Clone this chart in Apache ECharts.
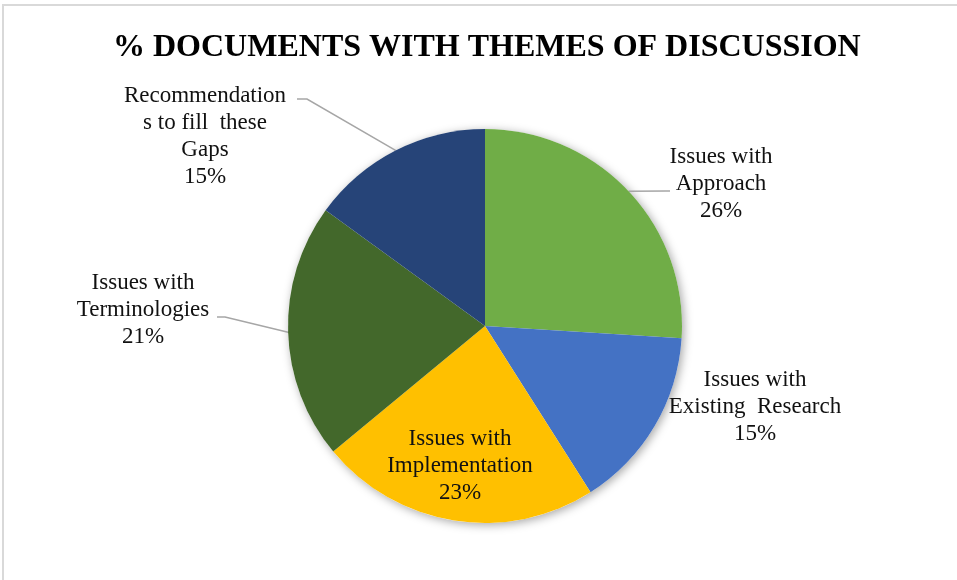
<!DOCTYPE html>
<html>
<head>
<meta charset="utf-8">
<script src="https://cdn.jsdelivr.net/npm/echarts@6/dist/echarts.min.js"></script>
<style>
  html, body { margin: 0; padding: 0; background: #fff; }
  #main { width: 957px; height: 580px; }
</style>
</head>
<body>
<div id="main"></div>
<script type="text/javascript">
    // data (percent of documents)
    var categories = [
        'Issues with\nApproach',
        'Issues with\nExisting  Research',
        'Issues with\nImplementation',
        'Issues with\nTerminologies',
        'Recommendation\ns to fill  these\nGaps'
    ];
    var values = [26, 15, 23, 21, 15];
    var colors = ['#70AD47', '#4472C4', '#FFC000', '#43682B', '#264478'];

    // label centres and leader-line ends (layout only)
    var labelPos = [[721, 184], [755, 407], [460, 466], [143, 310], [205, 136]];
    var lineEnds = [
        [[666, 191], [670, 191]],
        null,
        null,
        [[225, 317], [217, 317]],
        [[307, 99], [297, 99]]
    ];

    var dom = document.getElementById('main');
    var myChart = echarts.init(dom);

    var pieData = [];
    for (var i = 0; i < categories.length; i++) {
        pieData.push({
            name: categories[i],
            value: values[i],
            itemStyle: { color: colors[i] },
            labelLine: { show: lineEnds[i] != null }
        });
    }

    var option = {
        backgroundColor: '#fff',
        animation: false,
        title: {
            text: '% DOCUMENTS WITH THEMES OF DISCUSSION',
            left: 108,
            top: 27,
            textStyle: {
                fontFamily: 'Liberation Serif',
                fontSize: 32,
                fontWeight: 'bold',
                color: '#000'
            }
        },
        graphic: [{
            type: 'rect',
            shape: { x: 3, y: 5, width: 1000, height: 700 },
            style: { fill: 'none', stroke: '#d9d9d9', lineWidth: 2 },
            silent: true,
            z: -10
        }],
        series: [
            {
                // shadow under the pie
                type: 'pie',
                silent: true,
                center: [485, 326],
                radius: 197,
                z: 1,
                label: { show: false },
                labelLine: { show: false },
                itemStyle: {
                    color: '#fff',
                    shadowBlur: 10,
                    shadowColor: 'rgba(0,0,0,0.35)',
                    shadowOffsetX: 2,
                    shadowOffsetY: 2
                },
                data: [{ value: 1, name: '' }]
            },
            {
                name: '% Documents',
                type: 'pie',
                center: [485, 326],
                radius: 197,
                startAngle: 90,
                clockwise: true,
                z: 2,
                avoidLabelOverlap: false,
                data: pieData,
                itemStyle: {
                    borderWidth: 0
                },
                label: {
                    show: true,
                    position: 'outside',
                    fontFamily: 'Liberation Serif',
                    fontSize: 23,
                    lineHeight: 27,
                    color: '#111',
                    formatter: function (p) {
                        return p.name + '\n' + p.value + '%';
                    }
                },
                labelLine: {
                    lineStyle: { color: '#a6a6a6', width: 1.5 }
                },
                labelLayout: function (p) {
                    var pos = labelPos[p.dataIndex];
                    var out = { x: pos[0], y: pos[1], align: 'center', verticalAlign: 'middle' };
                    var end = lineEnds[p.dataIndex];
                    if (end && p.labelLinePoints) {
                        out.labelLinePoints = [p.labelLinePoints[0], end[0], end[1]];
                    }
                    return out;
                }
            }
        ]
    };

    if (option && typeof option === "object") {
        myChart.setOption(option, true);
    }
</script>
</body>
</html>
